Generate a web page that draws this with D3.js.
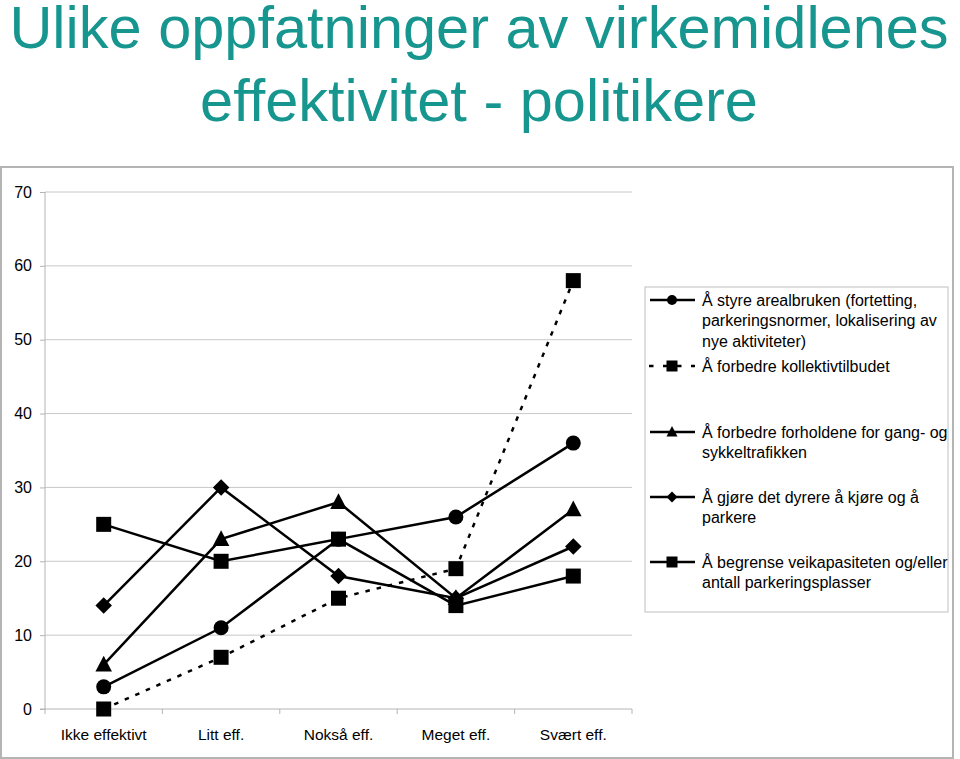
<!DOCTYPE html>
<html>
<head>
<meta charset="utf-8">
<script src="https://cdn.jsdelivr.net/npm/d3@7"></script>
<style>
  html, body { margin: 0; padding: 0; background: #fff; }
  svg { display: block; font-family: "Liberation Sans", Arial, Helvetica, sans-serif; }
</style>
</head>
<body>
<svg id="chart" width="960" height="759"></svg>
<script>
// ---- data ----
const titleLines = ["Ulike oppfatninger av virkemidlenes", "effektivitet - politikere"];
const categories = ["Ikke effektivt", "Litt eff.", "Nokså eff.", "Meget eff.", "Svært eff."];
const yTicks = [0, 10, 20, 30, 40, 50, 60, 70];

const seriesNames = [
  ["Å styre arealbruken (fortetting,", "parkeringsnormer, lokalisering av", "nye aktiviteter)"],
  ["Å forbedre kollektivtilbudet"],
  ["Å forbedre forholdene for gang- og", "sykkeltrafikken"],
  ["Å gjøre det dyrere å kjøre og å", "parkere"],
  ["Å begrense veikapasiteten og/eller", "antall parkeringsplasser"]
];
const seriesMarkers = ["circle", "square", "triangle", "diamond", "square"];
const seriesDashed = [false, true, false, false, false];

const valuesArealbruk   = [3, 11, 23, 26, 36];
const valuesKollektiv   = [0, 7, 15, 19, 58];
const valuesGangSykkel  = [6, 23, 28, 15, 27];
const valuesDyrere      = [14, 30, 18, 15, 22];
const valuesVeikapasitet= [25, 20, 23, 14, 18];
const seriesValues = [valuesArealbruk, valuesKollektiv, valuesGangSykkel, valuesDyrere, valuesVeikapasitet];

// ---- drawing ----
const svg = d3.select("#chart");
const teal = "#16968f";

// title
svg.append("g").selectAll("text").data(titleLines).join("text")
  .attr("x", 479).attr("y", (d, i) => 48 + i * 73)
  .attr("text-anchor", "middle")
  .attr("fill", teal)
  .attr("font-size", 59.5)
  .text(d => d);

// outer chart border
svg.append("rect").attr("x", 1).attr("y", 167).attr("width", 952).attr("height", 591)
  .attr("fill", "none").attr("stroke", "#b4b4b4").attr("stroke-width", 2);

const pLeft = 45, pRight = 632, pTop = 192, pBottom = 709;
const y = d3.scaleLinear().domain([0, 70]).range([pBottom, pTop]);
const x = d3.scaleBand().domain(categories).range([pLeft, pRight]);
const cx = c => x(c) + x.bandwidth() / 2;

// gridlines
svg.append("g").selectAll("line").data(yTicks.filter(t => t > 0)).join("line")
  .attr("x1", pLeft).attr("x2", pRight)
  .attr("y1", d => y(d)).attr("y2", d => y(d))
  .attr("stroke", "#c8c8c8").attr("stroke-width", 1);

// y axis
const yAxis = svg.append("g").attr("transform", `translate(${pLeft},0)`)
  .call(d3.axisLeft(y).tickValues(yTicks).tickSize(5).tickPadding(8).tickFormat(d3.format("d")));
yAxis.selectAll("line, path").attr("stroke", "#b4b4b4");
yAxis.selectAll("text").attr("font-size", 16).attr("fill", "#000")
  .attr("font-family", '"Liberation Sans", Arial, sans-serif');
yAxis.select(".domain").attr("d", `M-5,${pBottom}H0V${pTop}`);

// x axis
const xAxis = svg.append("g").attr("transform", `translate(0,${pBottom})`)
  .call(d3.axisBottom(x).tickSize(0).tickPadding(20));
xAxis.select(".domain").attr("d", `M${pLeft},0H${pRight}`).attr("stroke", "#b4b4b4");
xAxis.selectAll("text").attr("font-size", 15.5).attr("fill", "#000")
  .attr("font-family", '"Liberation Sans", Arial, sans-serif');
const boundaries = categories.map(c => x(c)).concat([x.range()[1]]);
xAxis.append("g").selectAll("line").data(boundaries).join("line")
  .attr("x1", d => d).attr("x2", d => d).attr("y1", 0).attr("y2", 5)
  .attr("stroke", "#b4b4b4");

// marker helper
function drawMarker(g, type, px, py, s) {
  if (type === "circle") {
    g.append("circle").attr("cx", px).attr("cy", py).attr("r", s / 2).attr("fill", "#000");
  } else if (type === "square") {
    g.append("rect").attr("x", px - s / 2).attr("y", py - s / 2).attr("width", s).attr("height", s).attr("fill", "#000");
  } else if (type === "triangle") {
    const h = s;
    g.append("path").attr("d", `M${px},${py - h * 0.6}L${px + s * 0.55},${py + h * 0.45}L${px - s * 0.55},${py + h * 0.45}Z`).attr("fill", "#000");
  } else if (type === "diamond") {
    const r = s * 0.55;
    g.append("path").attr("d", `M${px},${py - r}L${px + r},${py}L${px},${py + r}L${px - r},${py}Z`).attr("fill", "#000");
  }
}

// series
const line = d3.line().x((d, i) => cx(categories[i])).y(d => y(d));
seriesValues.forEach((vals, si) => {
  const g = svg.append("g");
  g.append("path").datum(vals).attr("d", line)
    .attr("fill", "none").attr("stroke", "#000").attr("stroke-width", 2.5)
    .attr("stroke-dasharray", seriesDashed[si] ? "4.5,7" : null);
  vals.forEach((v, i) => drawMarker(g, seriesMarkers[si], cx(categories[i]), y(v), 15));
});

// legend
const lg = svg.append("g");
lg.append("rect").attr("x", 645).attr("y", 287).attr("width", 303).attr("height", 325)
  .attr("fill", "#fff").attr("stroke", "#c0c0c0").attr("stroke-width", 1);
const entryY = [300, 366, 432, 497, 562];
seriesNames.forEach((lines, si) => {
  const ey = entryY[si];
  const g = lg.append("g");
  if (seriesDashed[si]) {
    g.append("line").attr("x1", 649).attr("x2", 695).attr("y1", ey).attr("y2", ey)
      .attr("stroke", "#000").attr("stroke-width", 2.5).attr("stroke-dasharray", "4.5,9.5");
  } else {
    g.append("line").attr("x1", 650).attr("x2", 695).attr("y1", ey).attr("y2", ey)
      .attr("stroke", "#000").attr("stroke-width", 2.5);
  }
  drawMarker(g, seriesMarkers[si], 672, ey, si === 1 || si === 4 ? 11 : 10);
  g.selectAll("text").data(lines).join("text")
    .attr("x", 702).attr("y", (d, i) => ey + 5.5 + i * 20.5)
    .attr("font-size", 16).attr("fill", "#000")
    .text(d => d);
});
</script>
</body>
</html>
